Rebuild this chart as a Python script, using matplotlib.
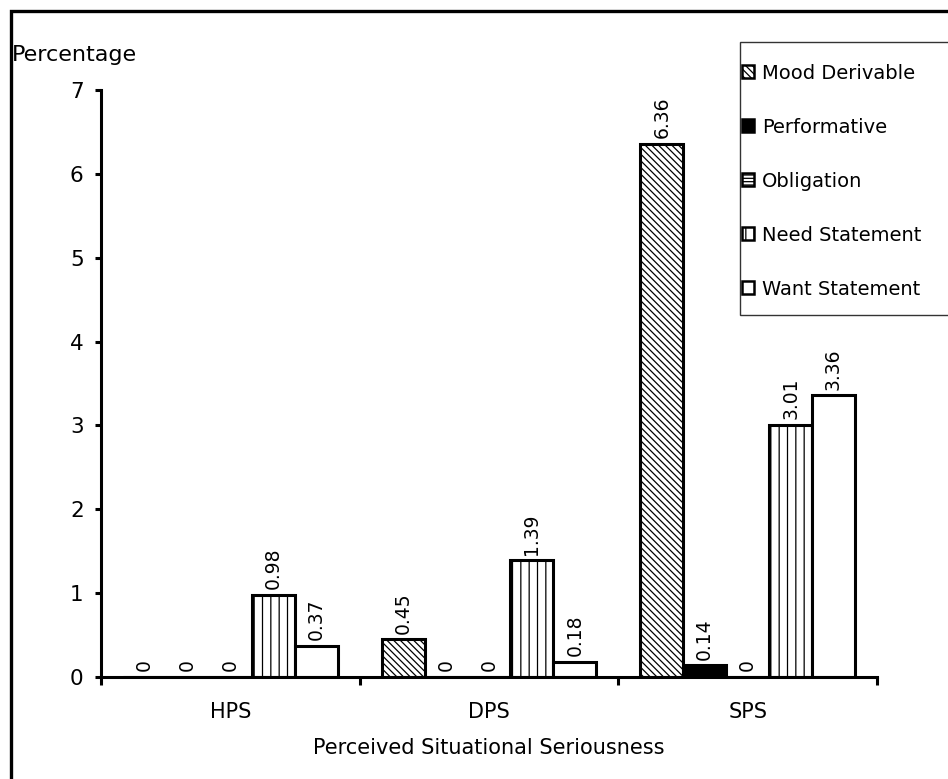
import matplotlib
matplotlib.use("Agg")
import matplotlib.pyplot as plt
from matplotlib.patches import Rectangle, Patch
import numpy as np

categories = ["HPS", "DPS", "SPS"]
series_names = ["Mood Derivable", "Performative", "Obligation", "Need Statement", "Want Statement"]
mood_derivable = [0, 0.45, 6.36]
performative = [0, 0, 0.14]
obligation = [0, 0, 0]
need_statement = [0.98, 1.39, 3.01]
want_statement = [0.37, 0.18, 3.36]
y_ticks = [0, 1, 2, 3, 4, 5, 6, 7]

series_values = [mood_derivable, performative, obligation, need_statement, want_statement]
faces = ["white", "black", "white", "white", "white"]
hatches = ["\\\\\\\\\\", None, "-----", "||", None]

plt.rcParams['font.family'] = ['DejaVu Sans']
plt.rcParams['hatch.linewidth'] = 0.9

fig = plt.figure(figsize=(9.48, 7.79), dpi=100)
W, H = 948, 779
ax = fig.add_axes([101 / W, 1 - 677 / H, (877 - 101) / W, (677 - 90) / H])

x = np.arange(len(categories))
bw = 0.166
for i, (vals, fc, h) in enumerate(zip(series_values, faces, hatches)):
    pos = x + (i - 2) * bw
    bars = ax.bar(pos, vals, bw, color=fc, edgecolor="black", linewidth=2.2,
                  hatch=h, zorder=2)
    for b, v in zip(bars, vals):
        ax.annotate(f"{v:g}", (b.get_x() + b.get_width() / 2, v),
                    xytext=(0, 4), textcoords="offset points",
                    rotation=90, ha="center", va="bottom", fontsize=13.5)

ax.set_xlim(-0.5, 2.5)
ax.set_ylim(0, 7)
ax.set_yticks(y_ticks)
ax.set_yticklabels([str(t) for t in y_ticks], fontsize=15.5)
ax.set_xticks([-0.5, 0.5, 1.5, 2.5])
ax.set_xticklabels([])
ax.set_xticks(x, minor=True)
ax.set_xticklabels(categories, minor=True, fontsize=15)
ax.tick_params(axis="x", which="minor", length=0, pad=18)
ax.tick_params(axis="x", which="major", direction="out", length=6, width=2.2)
ax.tick_params(axis="y", direction="out", length=4.5, width=2.2, pad=8)
for s in ["top", "right"]:
    ax.spines[s].set_visible(False)
for s in ["left", "bottom"]:
    ax.spines[s].set_linewidth(2.2)

fig.text(12 / W, 1 - 55 / H, "Percentage", fontsize=16, ha="left", va="center")
fig.text(489 / W, 1 - 748 / H, "Perceived Situational Seriousness", fontsize=15,
         ha="center", va="center")

# outer border
fig.patches.append(Rectangle((11 / W, -0.05), 1.2, 1 - 11 / H + 0.05,
                             transform=fig.transFigure, fill=False,
                             edgecolor="black", linewidth=2.4, zorder=0))
# legend box
fig.patches.append(Rectangle((740 / W, 1 - 315 / H), 0.3, (315 - 42) / H,
                             transform=fig.transFigure, facecolor="white",
                             edgecolor="#333333", linewidth=1.0, zorder=1))

handles = [Patch(facecolor=fc, edgecolor="black", hatch=h, linewidth=1.8)
           for fc, h in zip(faces, hatches)]
leg = fig.legend(handles, series_names, loc="upper left",
                 bbox_to_anchor=(728 / W, 1 - 50 / H), frameon=False,
                 fontsize=14, handlelength=0.65, handleheight=0.65,
                 handletextpad=0.4, labelspacing=1.8, borderpad=0.2)
leg.set_zorder(3)

fig.savefig("out.png", dpi=100)
